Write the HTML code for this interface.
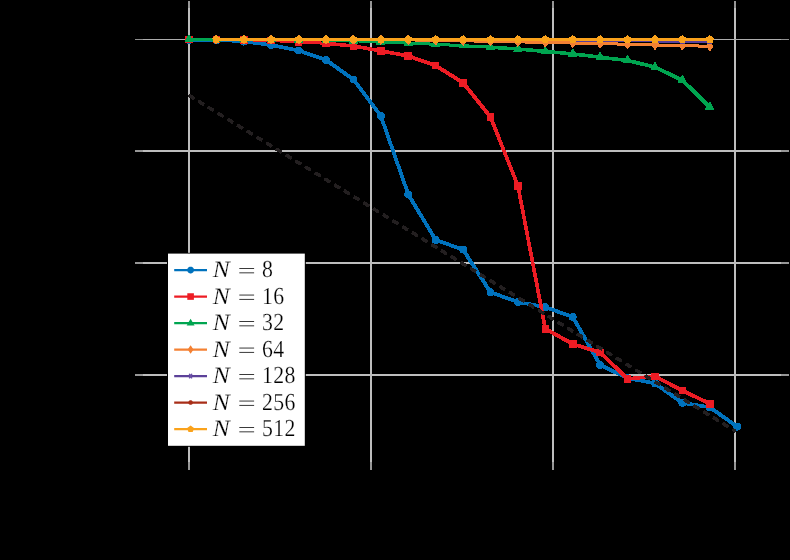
<!DOCTYPE html><html><head><meta charset="utf-8"><title>plot</title><style>html,body{margin:0;padding:0;background:#000;overflow:hidden;}svg{display:block;}text{font-family:"Liberation Serif",serif;}</style></head><body>
<svg width="790" height="560" viewBox="0 0 790 560" text-rendering="geometricPrecision">
<rect width="790" height="560" fill="#000"/>
<g shape-rendering="crispEdges"><rect x="188" y="1" width="2" height="7" fill="#979797"/><rect x="188" y="462" width="2" height="8" fill="#979797"/><rect x="188" y="8" width="2" height="454" fill="#bdbdbd"/><rect x="370" y="1" width="2" height="7" fill="#979797"/><rect x="370" y="462" width="2" height="8" fill="#979797"/><rect x="370" y="8" width="2" height="454" fill="#bdbdbd"/><rect x="552" y="1" width="2" height="7" fill="#979797"/><rect x="552" y="462" width="2" height="8" fill="#979797"/><rect x="552" y="8" width="2" height="454" fill="#bdbdbd"/><rect x="734" y="1" width="2" height="7" fill="#979797"/><rect x="734" y="462" width="2" height="8" fill="#979797"/><rect x="734" y="8" width="2" height="454" fill="#bdbdbd"/><rect x="135" y="150" width="8" height="2" fill="#979797"/><rect x="781" y="150" width="8" height="2" fill="#979797"/><rect x="143" y="150" width="638" height="2" fill="#bdbdbd"/><rect x="135" y="262" width="8" height="2" fill="#979797"/><rect x="781" y="262" width="8" height="2" fill="#979797"/><rect x="143" y="262" width="638" height="2" fill="#bdbdbd"/><rect x="135" y="374" width="8" height="2" fill="#979797"/><rect x="781" y="374" width="8" height="2" fill="#979797"/><rect x="143" y="374" width="638" height="2" fill="#bdbdbd"/><rect x="135" y="39" width="8" height="1" fill="#8f8f8f"/><rect x="781" y="39" width="8" height="1" fill="#8f8f8f"/><rect x="143" y="39" width="638" height="1" fill="#adadad"/></g>
<g shape-rendering="crispEdges">
<polygon points="188.49,40.50 188.51,38.50 189.51,38.50 216.92,38.70 216.92,39.70 216.90,41.70 215.90,41.70 188.49,41.50" fill="#0072BD"/>
<polygon points="215.86,40.70 215.96,38.70 216.96,38.70 244.37,40.10 244.37,41.10 244.27,43.10 243.27,43.10 215.86,41.70" fill="#0072BD"/>
<polygon points="243.17,42.34 243.47,39.86 244.47,39.86 271.88,43.26 271.88,44.26 271.58,46.74 270.58,46.74 243.17,43.34" fill="#0072BD"/>
<polygon points="270.48,45.73 270.98,43.27 271.98,43.27 299.39,48.77 299.39,49.77 298.89,52.23 297.89,52.23 270.48,46.73" fill="#0072BD"/>
<polygon points="297.73,51.18 298.55,48.82 299.55,48.82 326.96,58.32 326.96,59.32 326.14,61.68 325.14,61.68 297.73,52.18" fill="#0072BD"/>
<polygon points="324.82,60.52 326.27,58.48 327.27,58.48 354.69,77.98 354.69,78.98 353.24,81.02 352.24,81.02 324.82,61.52" fill="#0072BD"/>
<polygon points="351.96,79.75 353.96,78.25 354.96,78.25 382.37,114.75 382.37,115.75 380.37,117.25 379.37,117.25 351.96,80.75" fill="#0072BD"/>
<polygon points="379.19,115.91 381.55,115.09 382.55,115.09 409.96,193.49 409.96,194.49 407.60,195.31 406.60,195.31 379.19,116.91" fill="#0072BD"/>
<polygon points="406.71,194.54 408.85,193.26 409.85,193.26 437.26,238.86 437.26,239.86 435.12,241.14 434.12,241.14 406.71,195.54" fill="#0072BD"/>
<polygon points="434.78,240.68 435.60,238.32 436.60,238.32 464.01,247.92 464.01,248.92 463.19,251.28 462.19,251.28 434.78,241.68" fill="#0072BD"/>
<polygon points="461.55,249.78 463.65,248.43 464.65,248.43 492.06,291.12 492.06,292.12 489.96,293.48 488.96,293.48 461.55,250.78" fill="#0072BD"/>
<polygon points="489.59,292.98 490.43,290.62 491.43,290.62 518.84,300.32 518.84,301.32 518.00,303.68 517.00,303.68 489.59,293.98" fill="#0072BD"/>
<polygon points="517.19,302.73 517.65,300.27 518.65,300.27 546.06,305.37 546.06,306.37 545.60,308.83 544.60,308.83 517.19,303.73" fill="#0072BD"/>
<polygon points="544.40,307.78 545.25,305.42 546.25,305.42 573.66,315.32 573.66,316.32 572.82,318.68 571.82,318.68 544.40,308.78" fill="#0072BD"/>
<polygon points="571.15,317.12 573.33,315.88 574.33,315.88 601.74,363.78 601.74,364.78 599.57,366.02 598.57,366.02 571.15,318.12" fill="#0072BD"/>
<polygon points="599.10,365.52 600.20,363.27 601.20,363.27 628.61,376.57 628.61,377.57 627.51,379.82 626.51,379.82 599.10,366.52" fill="#0072BD"/>
<polygon points="626.83,378.93 627.29,376.47 628.29,376.47 655.70,381.57 655.70,382.57 655.24,385.03 654.24,385.03 626.83,379.93" fill="#0072BD"/>
<polygon points="653.74,383.82 655.20,381.78 656.20,381.78 683.61,401.38 683.61,402.38 682.15,404.42 681.15,404.42 653.74,384.82" fill="#0072BD"/>
<polygon points="681.69,403.63 682.07,401.17 683.07,401.17 710.48,405.46 710.48,406.46 710.10,408.94 709.10,408.94 681.69,404.63" fill="#0072BD"/>
<polygon points="708.57,407.72 710.01,405.68 711.01,405.68 738.42,425.18 738.42,426.18 736.98,428.22 735.98,428.22 708.57,408.72" fill="#0072BD"/>
<polygon points="185.10,39.50 185.14,38.97 185.27,38.45 185.47,37.96 185.75,37.50 186.10,37.10 186.50,36.75 186.96,36.47 187.45,36.27 187.97,36.14 188.50,36.10 189.50,36.10 190.03,36.14 190.55,36.27 191.04,36.47 191.50,36.75 191.90,37.10 192.25,37.50 192.53,37.96 192.73,38.45 192.86,38.97 192.90,39.50 192.90,40.50 192.86,41.03 192.73,41.55 192.53,42.04 192.25,42.50 191.90,42.90 191.50,43.25 191.04,43.53 190.55,43.73 190.03,43.86 189.50,43.90 188.50,43.90 187.97,43.86 187.45,43.73 186.96,43.53 186.50,43.25 186.10,42.90 185.75,42.50 185.47,42.04 185.27,41.55 185.14,41.03 185.10,40.50" fill="#0072BD"/>
<polygon points="212.51,39.70 212.55,39.17 212.68,38.65 212.88,38.16 213.16,37.70 213.51,37.30 213.91,36.95 214.37,36.67 214.86,36.47 215.38,36.34 215.91,36.30 216.91,36.30 217.44,36.34 217.96,36.47 218.45,36.67 218.91,36.95 219.31,37.30 219.66,37.70 219.94,38.16 220.14,38.65 220.27,39.17 220.31,39.70 220.31,40.70 220.27,41.23 220.14,41.75 219.94,42.24 219.66,42.70 219.31,43.10 218.91,43.45 218.45,43.73 217.96,43.93 217.44,44.06 216.91,44.10 215.91,44.10 215.38,44.06 214.86,43.93 214.37,43.73 213.91,43.45 213.51,43.10 213.16,42.70 212.88,42.24 212.68,41.75 212.55,41.23 212.51,40.70" fill="#0072BD"/>
<polygon points="239.92,41.10 239.96,40.57 240.09,40.05 240.29,39.56 240.57,39.10 240.92,38.70 241.32,38.35 241.78,38.07 242.27,37.87 242.79,37.74 243.32,37.70 244.32,37.70 244.85,37.74 245.37,37.87 245.86,38.07 246.32,38.35 246.72,38.70 247.07,39.10 247.35,39.56 247.55,40.05 247.68,40.57 247.72,41.10 247.72,42.10 247.68,42.63 247.55,43.15 247.35,43.64 247.07,44.10 246.72,44.50 246.32,44.85 245.86,45.13 245.37,45.33 244.85,45.46 244.32,45.50 243.32,45.50 242.79,45.46 242.27,45.33 241.78,45.13 241.32,44.85 240.92,44.50 240.57,44.10 240.29,43.64 240.09,43.15 239.96,42.63 239.92,42.10" fill="#0072BD"/>
<polygon points="267.33,44.50 267.37,43.97 267.50,43.45 267.70,42.96 267.98,42.50 268.33,42.10 268.73,41.75 269.19,41.47 269.68,41.27 270.20,41.14 270.73,41.10 271.73,41.10 272.26,41.14 272.78,41.27 273.27,41.47 273.73,41.75 274.13,42.10 274.48,42.50 274.76,42.96 274.96,43.45 275.09,43.97 275.13,44.50 275.13,45.50 275.09,46.03 274.96,46.55 274.76,47.04 274.48,47.50 274.13,47.90 273.73,48.25 273.27,48.53 272.78,48.73 272.26,48.86 271.73,48.90 270.73,48.90 270.20,48.86 269.68,48.73 269.19,48.53 268.73,48.25 268.33,47.90 267.98,47.50 267.70,47.04 267.50,46.55 267.37,46.03 267.33,45.50" fill="#0072BD"/>
<polygon points="294.74,50.00 294.78,49.47 294.91,48.95 295.11,48.46 295.39,48.00 295.74,47.60 296.14,47.25 296.60,46.97 297.09,46.77 297.61,46.64 298.14,46.60 299.14,46.60 299.67,46.64 300.19,46.77 300.68,46.97 301.14,47.25 301.54,47.60 301.89,48.00 302.17,48.46 302.37,48.95 302.50,49.47 302.54,50.00 302.54,51.00 302.50,51.53 302.37,52.05 302.17,52.54 301.89,53.00 301.54,53.40 301.14,53.75 300.68,54.03 300.19,54.23 299.67,54.36 299.14,54.40 298.14,54.40 297.61,54.36 297.09,54.23 296.60,54.03 296.14,53.75 295.74,53.40 295.39,53.00 295.11,52.54 294.91,52.05 294.78,51.53 294.74,51.00" fill="#0072BD"/>
<polygon points="322.15,59.50 322.19,58.97 322.32,58.45 322.52,57.96 322.80,57.50 323.15,57.10 323.55,56.75 324.01,56.47 324.50,56.27 325.02,56.14 325.55,56.10 326.55,56.10 327.08,56.14 327.60,56.27 328.09,56.47 328.55,56.75 328.95,57.10 329.30,57.50 329.58,57.96 329.78,58.45 329.91,58.97 329.95,59.50 329.95,60.50 329.91,61.03 329.78,61.55 329.58,62.04 329.30,62.50 328.95,62.90 328.55,63.25 328.09,63.53 327.60,63.73 327.08,63.86 326.55,63.90 325.55,63.90 325.02,63.86 324.50,63.73 324.01,63.53 323.55,63.25 323.15,62.90 322.80,62.50 322.52,62.04 322.32,61.55 322.19,61.03 322.15,60.50" fill="#0072BD"/>
<polygon points="349.56,79.00 349.60,78.47 349.73,77.95 349.93,77.46 350.21,77.00 350.56,76.60 350.96,76.25 351.42,75.97 351.91,75.77 352.43,75.64 352.96,75.60 353.96,75.60 354.49,75.64 355.01,75.77 355.50,75.97 355.96,76.25 356.36,76.60 356.71,77.00 356.99,77.46 357.19,77.95 357.32,78.47 357.36,79.00 357.36,80.00 357.32,80.53 357.19,81.05 356.99,81.54 356.71,82.00 356.36,82.40 355.96,82.75 355.50,83.03 355.01,83.23 354.49,83.36 353.96,83.40 352.96,83.40 352.43,83.36 351.91,83.23 351.42,83.03 350.96,82.75 350.56,82.40 350.21,82.00 349.93,81.54 349.73,81.05 349.60,80.53 349.56,80.00" fill="#0072BD"/>
<polygon points="376.97,115.50 377.01,114.97 377.14,114.45 377.34,113.96 377.62,113.50 377.97,113.10 378.37,112.75 378.83,112.47 379.32,112.27 379.84,112.14 380.37,112.10 381.37,112.10 381.90,112.14 382.42,112.27 382.91,112.47 383.37,112.75 383.77,113.10 384.12,113.50 384.40,113.96 384.60,114.45 384.73,114.97 384.77,115.50 384.77,116.50 384.73,117.03 384.60,117.55 384.40,118.04 384.12,118.50 383.77,118.90 383.37,119.25 382.91,119.53 382.42,119.73 381.90,119.86 381.37,119.90 380.37,119.90 379.84,119.86 379.32,119.73 378.83,119.53 378.37,119.25 377.97,118.90 377.62,118.50 377.34,118.04 377.14,117.55 377.01,117.03 376.97,116.50" fill="#0072BD"/>
<polygon points="404.38,193.90 404.42,193.37 404.55,192.85 404.75,192.36 405.03,191.90 405.38,191.50 405.78,191.15 406.24,190.87 406.73,190.67 407.25,190.54 407.78,190.50 408.78,190.50 409.31,190.54 409.83,190.67 410.32,190.87 410.78,191.15 411.18,191.50 411.53,191.90 411.81,192.36 412.01,192.85 412.14,193.37 412.18,193.90 412.18,194.90 412.14,195.43 412.01,195.95 411.81,196.44 411.53,196.90 411.18,197.30 410.78,197.65 410.32,197.93 409.83,198.13 409.31,198.26 408.78,198.30 407.78,198.30 407.25,198.26 406.73,198.13 406.24,197.93 405.78,197.65 405.38,197.30 405.03,196.90 404.75,196.44 404.55,195.95 404.42,195.43 404.38,194.90" fill="#0072BD"/>
<polygon points="431.79,239.50 431.83,238.97 431.96,238.45 432.16,237.96 432.44,237.50 432.79,237.10 433.19,236.75 433.65,236.47 434.14,236.27 434.66,236.14 435.19,236.10 436.19,236.10 436.72,236.14 437.24,236.27 437.73,236.47 438.19,236.75 438.59,237.10 438.94,237.50 439.22,237.96 439.42,238.45 439.55,238.97 439.59,239.50 439.59,240.50 439.55,241.03 439.42,241.55 439.22,242.04 438.94,242.50 438.59,242.90 438.19,243.25 437.73,243.53 437.24,243.73 436.72,243.86 436.19,243.90 435.19,243.90 434.66,243.86 434.14,243.73 433.65,243.53 433.19,243.25 432.79,242.90 432.44,242.50 432.16,242.04 431.96,241.55 431.83,241.03 431.79,240.50" fill="#0072BD"/>
<polygon points="459.20,249.10 459.24,248.57 459.37,248.05 459.57,247.56 459.85,247.10 460.20,246.70 460.60,246.35 461.06,246.07 461.55,245.87 462.07,245.74 462.60,245.70 463.60,245.70 464.13,245.74 464.65,245.87 465.14,246.07 465.60,246.35 466.00,246.70 466.35,247.10 466.63,247.56 466.83,248.05 466.96,248.57 467.00,249.10 467.00,250.10 466.96,250.63 466.83,251.15 466.63,251.64 466.35,252.10 466.00,252.50 465.60,252.85 465.14,253.13 464.65,253.33 464.13,253.46 463.60,253.50 462.60,253.50 462.07,253.46 461.55,253.33 461.06,253.13 460.60,252.85 460.20,252.50 459.85,252.10 459.57,251.64 459.37,251.15 459.24,250.63 459.20,250.10" fill="#0072BD"/>
<polygon points="486.61,291.80 486.65,291.27 486.78,290.75 486.98,290.26 487.26,289.80 487.61,289.40 488.01,289.05 488.47,288.77 488.96,288.57 489.48,288.44 490.01,288.40 491.01,288.40 491.54,288.44 492.06,288.57 492.55,288.77 493.01,289.05 493.41,289.40 493.76,289.80 494.04,290.26 494.24,290.75 494.37,291.27 494.41,291.80 494.41,292.80 494.37,293.33 494.24,293.85 494.04,294.34 493.76,294.80 493.41,295.20 493.01,295.55 492.55,295.83 492.06,296.03 491.54,296.16 491.01,296.20 490.01,296.20 489.48,296.16 488.96,296.03 488.47,295.83 488.01,295.55 487.61,295.20 487.26,294.80 486.98,294.34 486.78,293.85 486.65,293.33 486.61,292.80" fill="#0072BD"/>
<polygon points="514.02,301.50 514.06,300.97 514.19,300.45 514.39,299.96 514.67,299.50 515.02,299.10 515.42,298.75 515.88,298.47 516.37,298.27 516.89,298.14 517.42,298.10 518.42,298.10 518.95,298.14 519.47,298.27 519.96,298.47 520.42,298.75 520.82,299.10 521.17,299.50 521.45,299.96 521.65,300.45 521.78,300.97 521.82,301.50 521.82,302.50 521.78,303.03 521.65,303.55 521.45,304.04 521.17,304.50 520.82,304.90 520.42,305.25 519.96,305.53 519.47,305.73 518.95,305.86 518.42,305.90 517.42,305.90 516.89,305.86 516.37,305.73 515.88,305.53 515.42,305.25 515.02,304.90 514.67,304.50 514.39,304.04 514.19,303.55 514.06,303.03 514.02,302.50" fill="#0072BD"/>
<polygon points="541.43,306.60 541.47,306.07 541.60,305.55 541.80,305.06 542.08,304.60 542.43,304.20 542.83,303.85 543.29,303.57 543.78,303.37 544.30,303.24 544.83,303.20 545.83,303.20 546.36,303.24 546.88,303.37 547.37,303.57 547.83,303.85 548.23,304.20 548.58,304.60 548.86,305.06 549.06,305.55 549.19,306.07 549.23,306.60 549.23,307.60 549.19,308.13 549.06,308.65 548.86,309.14 548.58,309.60 548.23,310.00 547.83,310.35 547.37,310.63 546.88,310.83 546.36,310.96 545.83,311.00 544.83,311.00 544.30,310.96 543.78,310.83 543.29,310.63 542.83,310.35 542.43,310.00 542.08,309.60 541.80,309.14 541.60,308.65 541.47,308.13 541.43,307.60" fill="#0072BD"/>
<polygon points="568.84,316.50 568.88,315.97 569.01,315.45 569.21,314.96 569.49,314.50 569.84,314.10 570.24,313.75 570.70,313.47 571.19,313.27 571.71,313.14 572.24,313.10 573.24,313.10 573.77,313.14 574.29,313.27 574.78,313.47 575.24,313.75 575.64,314.10 575.99,314.50 576.27,314.96 576.47,315.45 576.60,315.97 576.64,316.50 576.64,317.50 576.60,318.03 576.47,318.55 576.27,319.04 575.99,319.50 575.64,319.90 575.24,320.25 574.78,320.53 574.29,320.73 573.77,320.86 573.24,320.90 572.24,320.90 571.71,320.86 571.19,320.73 570.70,320.53 570.24,320.25 569.84,319.90 569.49,319.50 569.21,319.04 569.01,318.55 568.88,318.03 568.84,317.50" fill="#0072BD"/>
<polygon points="596.25,364.40 596.29,363.87 596.42,363.35 596.62,362.86 596.90,362.40 597.25,362.00 597.65,361.65 598.11,361.37 598.60,361.17 599.12,361.04 599.65,361.00 600.65,361.00 601.18,361.04 601.70,361.17 602.19,361.37 602.65,361.65 603.05,362.00 603.40,362.40 603.68,362.86 603.88,363.35 604.01,363.87 604.05,364.40 604.05,365.40 604.01,365.93 603.88,366.45 603.68,366.94 603.40,367.40 603.05,367.80 602.65,368.15 602.19,368.43 601.70,368.63 601.18,368.76 600.65,368.80 599.65,368.80 599.12,368.76 598.60,368.63 598.11,368.43 597.65,368.15 597.25,367.80 596.90,367.40 596.62,366.94 596.42,366.45 596.29,365.93 596.25,365.40" fill="#0072BD"/>
<polygon points="623.66,377.70 623.70,377.17 623.83,376.65 624.03,376.16 624.31,375.70 624.66,375.30 625.06,374.95 625.52,374.67 626.01,374.47 626.53,374.34 627.06,374.30 628.06,374.30 628.59,374.34 629.11,374.47 629.60,374.67 630.06,374.95 630.46,375.30 630.81,375.70 631.09,376.16 631.29,376.65 631.42,377.17 631.46,377.70 631.46,378.70 631.42,379.23 631.29,379.75 631.09,380.24 630.81,380.70 630.46,381.10 630.06,381.45 629.60,381.73 629.11,381.93 628.59,382.06 628.06,382.10 627.06,382.10 626.53,382.06 626.01,381.93 625.52,381.73 625.06,381.45 624.66,381.10 624.31,380.70 624.03,380.24 623.83,379.75 623.70,379.23 623.66,378.70" fill="#0072BD"/>
<polygon points="651.07,382.80 651.11,382.27 651.24,381.75 651.44,381.26 651.72,380.80 652.07,380.40 652.47,380.05 652.93,379.77 653.42,379.57 653.94,379.44 654.47,379.40 655.47,379.40 656.00,379.44 656.52,379.57 657.01,379.77 657.47,380.05 657.87,380.40 658.22,380.80 658.50,381.26 658.70,381.75 658.83,382.27 658.87,382.80 658.87,383.80 658.83,384.33 658.70,384.85 658.50,385.34 658.22,385.80 657.87,386.20 657.47,386.55 657.01,386.83 656.52,387.03 656.00,387.16 655.47,387.20 654.47,387.20 653.94,387.16 653.42,387.03 652.93,386.83 652.47,386.55 652.07,386.20 651.72,385.80 651.44,385.34 651.24,384.85 651.11,384.33 651.07,383.80" fill="#0072BD"/>
<polygon points="678.48,402.40 678.52,401.87 678.65,401.35 678.85,400.86 679.13,400.40 679.48,400.00 679.88,399.65 680.34,399.37 680.83,399.17 681.35,399.04 681.88,399.00 682.88,399.00 683.41,399.04 683.93,399.17 684.42,399.37 684.88,399.65 685.28,400.00 685.63,400.40 685.91,400.86 686.11,401.35 686.24,401.87 686.28,402.40 686.28,403.40 686.24,403.93 686.11,404.45 685.91,404.94 685.63,405.40 685.28,405.80 684.88,406.15 684.42,406.43 683.93,406.63 683.41,406.76 682.88,406.80 681.88,406.80 681.35,406.76 680.83,406.63 680.34,406.43 679.88,406.15 679.48,405.80 679.13,405.40 678.85,404.94 678.65,404.45 678.52,403.93 678.48,403.40" fill="#0072BD"/>
<polygon points="705.89,406.70 705.93,406.17 706.06,405.65 706.26,405.16 706.54,404.70 706.89,404.30 707.29,403.95 707.75,403.67 708.24,403.47 708.76,403.34 709.29,403.30 710.29,403.30 710.82,403.34 711.34,403.47 711.83,403.67 712.29,403.95 712.69,404.30 713.04,404.70 713.32,405.16 713.52,405.65 713.65,406.17 713.69,406.70 713.69,407.70 713.65,408.23 713.52,408.75 713.32,409.24 713.04,409.70 712.69,410.10 712.29,410.45 711.83,410.73 711.34,410.93 710.82,411.06 710.29,411.10 709.29,411.10 708.76,411.06 708.24,410.93 707.75,410.73 707.29,410.45 706.89,410.10 706.54,409.70 706.26,409.24 706.06,408.75 705.93,408.23 705.89,407.70" fill="#0072BD"/>
<polygon points="733.30,426.20 733.34,425.67 733.47,425.15 733.67,424.66 733.95,424.20 734.30,423.80 734.70,423.45 735.16,423.17 735.65,422.97 736.17,422.84 736.70,422.80 737.70,422.80 738.23,422.84 738.75,422.97 739.24,423.17 739.70,423.45 740.10,423.80 740.45,424.20 740.73,424.66 740.93,425.15 741.06,425.67 741.10,426.20 741.10,427.20 741.06,427.73 740.93,428.25 740.73,428.74 740.45,429.20 740.10,429.60 739.70,429.95 739.24,430.23 738.75,430.43 738.23,430.56 737.70,430.60 736.70,430.60 736.17,430.56 735.65,430.43 735.16,430.23 734.70,429.95 734.30,429.60 733.95,429.20 733.67,428.74 733.47,428.25 733.34,427.73 733.30,427.20" fill="#0072BD"/>
<polygon points="188.50,38.05 216.91,38.05 216.91,41.05 188.50,41.05" fill="#ED1C24"/>
<polygon points="215.91,40.05 215.91,38.05 216.91,38.05 244.32,38.20 244.32,39.20 244.31,41.20 243.31,41.20 215.91,41.05" fill="#ED1C24"/>
<polygon points="243.29,40.20 243.35,38.20 244.35,38.20 271.76,39.10 271.76,40.10 271.70,42.10 270.70,42.10 243.29,41.20" fill="#ED1C24"/>
<polygon points="270.69,41.10 270.77,39.10 271.77,39.10 299.18,40.30 299.18,41.30 299.10,43.30 298.10,43.30 270.69,42.10" fill="#ED1C24"/>
<polygon points="298.08,42.30 298.19,40.30 299.19,40.30 326.61,41.80 326.61,42.80 326.50,44.80 325.50,44.80 298.08,43.30" fill="#ED1C24"/>
<polygon points="325.43,44.04 325.67,41.56 326.67,41.56 354.08,44.26 354.08,45.26 353.84,47.74 352.84,47.74 325.43,45.04" fill="#ED1C24"/>
<polygon points="352.74,46.73 353.18,44.27 354.18,44.27 381.59,49.17 381.59,50.17 381.15,52.63 380.15,52.63 352.74,47.73" fill="#ED1C24"/>
<polygon points="380.14,51.63 380.60,49.17 381.60,49.17 409.01,54.27 409.01,55.27 408.55,57.73 407.55,57.73 380.14,52.63" fill="#ED1C24"/>
<polygon points="407.37,56.68 408.19,54.32 409.19,54.32 436.60,63.92 436.60,64.92 435.78,67.28 434.78,67.28 407.37,57.68" fill="#ED1C24"/>
<polygon points="434.53,66.16 435.85,64.04 436.85,64.04 464.26,81.24 464.26,82.24 462.94,84.36 461.94,84.36 434.53,67.16" fill="#ED1C24"/>
<polygon points="461.62,83.08 463.57,81.52 464.57,81.52 491.99,115.72 491.99,116.72 490.04,118.28 489.04,118.28 461.62,84.08" fill="#ED1C24"/>
<polygon points="488.85,116.96 491.17,116.04 492.17,116.04 519.58,184.84 519.58,185.84 517.26,186.76 516.26,186.76 488.85,117.96" fill="#ED1C24"/>
<polygon points="516.19,185.53 518.65,185.06 519.65,185.06 547.06,328.06 547.06,329.06 544.60,329.54 543.60,329.54 516.19,186.53" fill="#ED1C24"/>
<polygon points="544.22,329.39 545.44,327.21 546.44,327.21 573.85,342.41 573.85,343.41 572.63,345.59 571.63,345.59 544.22,330.39" fill="#ED1C24"/>
<polygon points="571.87,344.69 572.61,342.31 573.61,342.31 601.02,350.81 601.02,351.81 600.28,354.19 599.28,354.19 571.87,345.69" fill="#ED1C24"/>
<polygon points="598.78,352.90 600.51,351.10 601.51,351.10 628.92,377.40 628.92,378.40 627.20,380.20 626.20,380.20 598.78,353.90" fill="#ED1C24"/>
<polygon points="626.95,377.06 654.36,374.56 655.36,374.56 655.58,377.05 655.58,378.05 628.17,380.55 627.17,380.55 626.95,378.06" fill="#ED1C24"/>
<polygon points="653.89,376.91 655.04,374.69 656.04,374.69 683.46,388.89 683.46,389.89 682.30,392.11 681.30,392.11 653.89,377.91" fill="#ED1C24"/>
<polygon points="681.34,391.13 682.42,388.87 683.42,388.87 710.83,402.07 710.83,403.07 709.75,405.33 708.75,405.33 681.34,392.13" fill="#ED1C24"/>
<polygon points="185.20,35.75 192.80,35.75 192.80,43.35 185.20,43.35" fill="#ED1C24"/>
<polygon points="212.61,35.75 220.21,35.75 220.21,43.35 212.61,43.35" fill="#ED1C24"/>
<polygon points="240.02,35.90 247.62,35.90 247.62,43.50 240.02,43.50" fill="#ED1C24"/>
<polygon points="267.43,36.80 275.03,36.80 275.03,44.40 267.43,44.40" fill="#ED1C24"/>
<polygon points="294.84,38.00 302.44,38.00 302.44,45.60 294.84,45.60" fill="#ED1C24"/>
<polygon points="322.25,39.50 329.85,39.50 329.85,47.10 322.25,47.10" fill="#ED1C24"/>
<polygon points="349.66,42.20 357.26,42.20 357.26,49.80 349.66,49.80" fill="#ED1C24"/>
<polygon points="377.07,47.10 384.67,47.10 384.67,54.70 377.07,54.70" fill="#ED1C24"/>
<polygon points="404.48,52.20 412.08,52.20 412.08,59.80 404.48,59.80" fill="#ED1C24"/>
<polygon points="431.89,61.80 439.49,61.80 439.49,69.40 431.89,69.40" fill="#ED1C24"/>
<polygon points="459.30,79.00 466.90,79.00 466.90,86.60 459.30,86.60" fill="#ED1C24"/>
<polygon points="486.71,113.20 494.31,113.20 494.31,120.80 486.71,120.80" fill="#ED1C24"/>
<polygon points="514.12,182.00 521.72,182.00 521.72,189.60 514.12,189.60" fill="#ED1C24"/>
<polygon points="541.53,325.00 549.13,325.00 549.13,332.60 541.53,332.60" fill="#ED1C24"/>
<polygon points="568.94,340.20 576.54,340.20 576.54,347.80 568.94,347.80" fill="#ED1C24"/>
<polygon points="596.35,348.70 603.95,348.70 603.95,356.30 596.35,356.30" fill="#ED1C24"/>
<polygon points="623.76,375.00 631.36,375.00 631.36,382.60 623.76,382.60" fill="#ED1C24"/>
<polygon points="651.17,372.50 658.77,372.50 658.77,380.10 651.17,380.10" fill="#ED1C24"/>
<polygon points="678.58,386.70 686.18,386.70 686.18,394.30 678.58,394.30" fill="#ED1C24"/>
<polygon points="705.99,399.90 713.59,399.90 713.59,407.50 705.99,407.50" fill="#ED1C24"/>
<polygon points="188.50,38.10 216.91,38.10 216.91,41.10 188.50,41.10" fill="#00A550"/>
<polygon points="215.91,40.10 215.91,38.10 216.91,38.10 244.32,38.15 244.32,39.15 244.32,41.15 243.32,41.15 215.91,41.10" fill="#00A550"/>
<polygon points="243.32,40.15 243.32,38.15 244.32,38.15 271.73,38.20 271.73,39.20 271.73,41.20 270.73,41.20 243.32,41.15" fill="#00A550"/>
<polygon points="270.73,40.20 270.74,38.20 271.74,38.20 299.14,38.35 299.14,39.35 299.13,41.35 298.13,41.35 270.73,41.20" fill="#00A550"/>
<polygon points="298.13,40.35 298.14,38.35 299.14,38.35 326.56,38.50 326.56,39.50 326.55,41.50 325.55,41.50 298.13,41.35" fill="#00A550"/>
<polygon points="325.52,40.50 325.58,38.50 326.58,38.50 353.99,39.25 353.99,40.25 353.93,42.25 352.93,42.25 325.52,41.50" fill="#00A550"/>
<polygon points="352.92,41.25 353.00,39.25 354.00,39.25 381.41,40.35 381.41,41.35 381.33,43.35 380.33,43.35 352.92,42.25" fill="#00A550"/>
<polygon points="380.33,42.35 380.41,40.35 381.41,40.35 408.82,41.50 408.82,42.50 408.74,44.50 407.74,44.50 380.33,43.35" fill="#00A550"/>
<polygon points="407.73,43.50 407.83,41.50 408.83,41.50 436.24,42.80 436.24,43.80 436.14,45.80 435.14,45.80 407.73,44.50" fill="#00A550"/>
<polygon points="435.14,44.80 435.24,42.80 436.24,42.80 463.65,44.20 463.65,45.20 463.55,47.20 462.55,47.20 435.14,45.80" fill="#00A550"/>
<polygon points="462.55,46.20 462.65,44.20 463.65,44.20 491.06,45.70 491.06,46.70 490.95,48.70 489.95,48.70 462.55,47.20" fill="#00A550"/>
<polygon points="489.93,47.95 490.09,45.45 491.09,45.45 518.50,47.25 518.50,48.25 518.34,50.75 517.34,50.75 489.93,48.95" fill="#00A550"/>
<polygon points="517.31,49.74 517.53,47.26 518.53,47.26 545.94,49.66 545.94,50.66 545.72,53.15 544.72,53.15 517.31,50.74" fill="#00A550"/>
<polygon points="544.72,52.15 544.94,49.66 545.94,49.66 573.35,52.16 573.35,53.16 573.13,55.65 572.13,55.65 544.72,53.15" fill="#00A550"/>
<polygon points="572.09,54.64 572.39,52.16 573.39,52.16 600.80,55.46 600.80,56.46 600.50,58.94 599.50,58.94 572.09,55.64" fill="#00A550"/>
<polygon points="599.50,57.94 599.80,55.46 600.80,55.46 628.21,58.76 628.21,59.76 627.91,62.24 626.91,62.24 599.50,58.94" fill="#00A550"/>
<polygon points="626.77,61.22 627.35,58.78 628.35,58.78 655.76,65.39 655.76,66.39 655.18,68.81 654.18,68.81 626.77,62.22" fill="#00A550"/>
<polygon points="653.93,67.73 655.01,65.47 656.01,65.47 683.42,78.67 683.42,79.67 682.34,81.93 681.34,81.93 653.93,68.73" fill="#00A550"/>
<polygon points="681.01,80.69 682.75,78.91 683.75,78.91 711.16,105.61 711.16,106.61 709.42,108.39 708.42,108.39 681.01,81.69" fill="#00A550"/>
<polygon points="184.56,41.38 188.50,34.55 189.50,34.55 193.44,41.38 193.44,42.38 184.56,42.38" fill="#00A550"/>
<polygon points="211.97,41.38 215.91,34.55 216.91,34.55 220.85,41.38 220.85,42.38 211.97,42.38" fill="#00A550"/>
<polygon points="239.38,41.42 243.32,34.60 244.32,34.60 248.26,41.42 248.26,42.42 239.38,42.42" fill="#00A550"/>
<polygon points="266.79,41.48 270.73,34.65 271.73,34.65 275.67,41.48 275.67,42.48 266.79,42.48" fill="#00A550"/>
<polygon points="294.20,41.62 298.14,34.80 299.14,34.80 303.08,41.62 303.08,42.62 294.20,42.62" fill="#00A550"/>
<polygon points="321.61,41.77 325.55,34.95 326.55,34.95 330.49,41.77 330.49,42.77 321.61,42.77" fill="#00A550"/>
<polygon points="349.02,42.52 352.96,35.70 353.96,35.70 357.90,42.52 357.90,43.52 349.02,43.52" fill="#00A550"/>
<polygon points="376.43,43.62 380.37,36.80 381.37,36.80 385.31,43.62 385.31,44.62 376.43,44.62" fill="#00A550"/>
<polygon points="403.84,44.77 407.78,37.95 408.78,37.95 412.72,44.77 412.72,45.77 403.84,45.77" fill="#00A550"/>
<polygon points="431.25,46.08 435.19,39.25 436.19,39.25 440.13,46.08 440.13,47.08 431.25,47.08" fill="#00A550"/>
<polygon points="458.66,47.48 462.60,40.65 463.60,40.65 467.54,47.48 467.54,48.48 458.66,48.48" fill="#00A550"/>
<polygon points="486.07,48.98 490.01,42.15 491.01,42.15 494.95,48.98 494.95,49.98 486.07,49.98" fill="#00A550"/>
<polygon points="513.48,50.77 517.42,43.95 518.42,43.95 522.36,50.77 522.36,51.77 513.48,51.77" fill="#00A550"/>
<polygon points="540.89,53.17 544.83,46.35 545.83,46.35 549.77,53.17 549.77,54.17 540.89,54.17" fill="#00A550"/>
<polygon points="568.30,55.67 572.24,48.85 573.24,48.85 577.18,55.67 577.18,56.67 568.30,56.67" fill="#00A550"/>
<polygon points="595.71,58.98 599.65,52.15 600.65,52.15 604.59,58.98 604.59,59.98 595.71,59.98" fill="#00A550"/>
<polygon points="623.12,62.27 627.06,55.45 628.06,55.45 632.00,62.27 632.00,63.27 623.12,63.27" fill="#00A550"/>
<polygon points="650.53,68.88 654.47,62.05 655.47,62.05 659.41,68.88 659.41,69.88 650.53,69.88" fill="#00A550"/>
<polygon points="677.94,82.08 681.88,75.25 682.88,75.25 686.82,82.08 686.82,83.08 677.94,83.08" fill="#00A550"/>
<polygon points="705.35,108.78 709.29,101.95 710.29,101.95 714.23,108.78 714.23,109.78 705.35,109.78" fill="#00A550"/>
<polygon points="215.91,38.05 244.32,38.05 244.32,41.05 215.91,41.05" fill="#F48133"/>
<polygon points="243.32,38.05 271.73,38.05 271.73,41.05 243.32,41.05" fill="#F48133"/>
<polygon points="270.73,38.05 299.14,38.05 299.14,41.05 270.73,41.05" fill="#F48133"/>
<polygon points="298.14,38.05 326.55,38.05 326.55,41.05 298.14,41.05" fill="#F48133"/>
<polygon points="325.55,40.05 325.55,38.05 326.55,38.05 353.96,38.10 353.96,39.10 353.96,41.10 352.96,41.10 325.55,41.05" fill="#F48133"/>
<polygon points="352.96,40.10 352.96,38.10 353.96,38.10 381.37,38.20 381.37,39.20 381.37,41.20 380.37,41.20 352.96,41.10" fill="#F48133"/>
<polygon points="380.36,40.20 380.38,38.20 381.38,38.20 408.79,38.40 408.79,39.40 408.77,41.40 407.77,41.40 380.36,41.20" fill="#F48133"/>
<polygon points="407.76,40.40 407.80,38.40 408.80,38.40 436.20,38.80 436.20,39.80 436.18,41.80 435.18,41.80 407.76,41.40" fill="#F48133"/>
<polygon points="435.17,40.80 435.21,38.80 436.21,38.80 463.62,39.30 463.62,40.30 463.58,42.30 462.58,42.30 435.17,41.80" fill="#F48133"/>
<polygon points="462.58,41.30 462.62,39.30 463.62,39.30 491.03,39.80 491.03,40.80 490.99,42.80 489.99,42.80 462.58,42.30" fill="#F48133"/>
<polygon points="489.99,41.80 490.03,39.80 491.03,39.80 518.44,40.35 518.44,41.35 518.40,43.35 517.40,43.35 489.99,42.80" fill="#F48133"/>
<polygon points="517.40,42.35 517.44,40.35 518.44,40.35 545.85,40.90 545.85,41.90 545.81,43.90 544.81,43.90 517.40,43.35" fill="#F48133"/>
<polygon points="544.81,42.90 544.85,40.90 545.85,40.90 573.26,41.50 573.26,42.50 573.22,44.50 572.22,44.50 544.81,43.90" fill="#F48133"/>
<polygon points="572.22,43.50 572.26,41.50 573.26,41.50 600.67,42.10 600.67,43.10 600.63,45.10 599.63,45.10 572.22,44.50" fill="#F48133"/>
<polygon points="599.63,44.10 599.67,42.10 600.67,42.10 628.08,42.75 628.08,43.75 628.04,45.75 627.04,45.75 599.63,45.10" fill="#F48133"/>
<polygon points="627.03,44.75 627.09,42.75 628.09,42.75 655.50,43.43 655.50,44.43 655.45,46.43 654.45,46.43 627.03,45.75" fill="#F48133"/>
<polygon points="654.45,45.43 654.49,43.43 655.49,43.43 682.90,44.10 682.90,45.10 682.86,47.10 681.86,47.10 654.45,46.43" fill="#F48133"/>
<polygon points="681.85,46.10 681.91,44.10 682.91,44.10 710.32,44.80 710.32,45.80 710.26,47.80 709.26,47.80 681.85,47.10" fill="#F48133"/>
<polygon points="213.01,39.05 215.91,34.75 216.91,34.75 219.81,39.05 219.81,40.05 216.91,44.35 215.91,44.35 213.01,40.05" fill="#F48133"/>
<polygon points="240.42,39.05 243.32,34.75 244.32,34.75 247.22,39.05 247.22,40.05 244.32,44.35 243.32,44.35 240.42,40.05" fill="#F48133"/>
<polygon points="267.83,39.05 270.73,34.75 271.73,34.75 274.63,39.05 274.63,40.05 271.73,44.35 270.73,44.35 267.83,40.05" fill="#F48133"/>
<polygon points="295.24,39.05 298.14,34.75 299.14,34.75 302.04,39.05 302.04,40.05 299.14,44.35 298.14,44.35 295.24,40.05" fill="#F48133"/>
<polygon points="322.65,39.05 325.55,34.75 326.55,34.75 329.45,39.05 329.45,40.05 326.55,44.35 325.55,44.35 322.65,40.05" fill="#F48133"/>
<polygon points="350.06,39.10 352.96,34.80 353.96,34.80 356.86,39.10 356.86,40.10 353.96,44.40 352.96,44.40 350.06,40.10" fill="#F48133"/>
<polygon points="377.47,39.20 380.37,34.90 381.37,34.90 384.27,39.20 384.27,40.20 381.37,44.50 380.37,44.50 377.47,40.20" fill="#F48133"/>
<polygon points="404.88,39.40 407.78,35.10 408.78,35.10 411.68,39.40 411.68,40.40 408.78,44.70 407.78,44.70 404.88,40.40" fill="#F48133"/>
<polygon points="432.29,39.80 435.19,35.50 436.19,35.50 439.09,39.80 439.09,40.80 436.19,45.10 435.19,45.10 432.29,40.80" fill="#F48133"/>
<polygon points="459.70,40.30 462.60,36.00 463.60,36.00 466.50,40.30 466.50,41.30 463.60,45.60 462.60,45.60 459.70,41.30" fill="#F48133"/>
<polygon points="487.11,40.80 490.01,36.50 491.01,36.50 493.91,40.80 493.91,41.80 491.01,46.10 490.01,46.10 487.11,41.80" fill="#F48133"/>
<polygon points="514.52,41.35 517.42,37.05 518.42,37.05 521.32,41.35 521.32,42.35 518.42,46.65 517.42,46.65 514.52,42.35" fill="#F48133"/>
<polygon points="541.93,41.90 544.83,37.60 545.83,37.60 548.73,41.90 548.73,42.90 545.83,47.20 544.83,47.20 541.93,42.90" fill="#F48133"/>
<polygon points="569.34,42.50 572.24,38.20 573.24,38.20 576.14,42.50 576.14,43.50 573.24,47.80 572.24,47.80 569.34,43.50" fill="#F48133"/>
<polygon points="596.75,43.10 599.65,38.80 600.65,38.80 603.55,43.10 603.55,44.10 600.65,48.40 599.65,48.40 596.75,44.10" fill="#F48133"/>
<polygon points="624.16,43.75 627.06,39.45 628.06,39.45 630.96,43.75 630.96,44.75 628.06,49.05 627.06,49.05 624.16,44.75" fill="#F48133"/>
<polygon points="651.57,44.43 654.47,40.13 655.47,40.13 658.37,44.43 658.37,45.43 655.47,49.73 654.47,49.73 651.57,45.43" fill="#F48133"/>
<polygon points="678.98,45.10 681.88,40.80 682.88,40.80 685.78,45.10 685.78,46.10 682.88,50.40 681.88,50.40 678.98,46.10" fill="#F48133"/>
<polygon points="706.39,45.80 709.29,41.50 710.29,41.50 713.19,45.80 713.19,46.80 710.29,51.10 709.29,51.10 706.39,46.80" fill="#F48133"/>
<polygon points="215.91,38.05 244.32,38.05 244.32,41.05 215.91,41.05" fill="#5A3F9B"/>
<polygon points="243.32,38.05 271.73,38.05 271.73,41.05 243.32,41.05" fill="#5A3F9B"/>
<polygon points="270.73,38.05 299.14,38.05 299.14,41.05 270.73,41.05" fill="#5A3F9B"/>
<polygon points="298.14,38.05 326.55,38.05 326.55,41.05 298.14,41.05" fill="#5A3F9B"/>
<polygon points="325.55,38.05 353.96,38.05 353.96,41.05 325.55,41.05" fill="#5A3F9B"/>
<polygon points="352.96,38.05 381.37,38.05 381.37,41.05 352.96,41.05" fill="#5A3F9B"/>
<polygon points="380.37,38.05 408.78,38.05 408.78,41.05 380.37,41.05" fill="#5A3F9B"/>
<polygon points="407.78,38.05 436.19,38.05 436.19,41.05 407.78,41.05" fill="#5A3F9B"/>
<polygon points="435.19,38.05 463.60,38.05 463.60,41.05 435.19,41.05" fill="#5A3F9B"/>
<polygon points="462.60,38.05 491.01,38.05 491.01,41.05 462.60,41.05" fill="#5A3F9B"/>
<polygon points="490.01,40.05 490.01,38.05 491.01,38.05 518.42,38.10 518.42,39.10 518.42,41.10 517.42,41.10 490.01,41.05" fill="#5A3F9B"/>
<polygon points="517.41,40.10 517.42,38.10 518.42,38.10 545.84,38.25 545.84,39.25 545.83,41.25 544.83,41.25 517.41,41.10" fill="#5A3F9B"/>
<polygon points="544.82,40.25 544.84,38.25 545.84,38.25 573.25,38.47 573.25,39.47 573.23,41.47 572.23,41.47 544.82,41.25" fill="#5A3F9B"/>
<polygon points="572.23,40.47 572.25,38.47 573.25,38.47 600.66,38.80 600.66,39.80 600.64,41.80 599.64,41.80 572.23,41.47" fill="#5A3F9B"/>
<polygon points="599.64,40.80 599.66,38.80 600.66,38.80 628.07,39.13 628.07,40.13 628.05,42.13 627.05,42.13 599.64,41.80" fill="#5A3F9B"/>
<polygon points="627.05,41.13 627.07,39.13 628.07,39.13 655.48,39.46 655.48,40.46 655.46,42.46 654.46,42.46 627.05,42.13" fill="#5A3F9B"/>
<polygon points="654.46,41.46 654.48,39.46 655.48,39.46 682.89,39.79 682.89,40.79 682.87,42.79 681.87,42.79 654.46,42.46" fill="#5A3F9B"/>
<polygon points="681.87,41.79 681.89,39.79 682.89,39.79 710.30,40.12 710.30,41.12 710.28,43.12 709.28,43.12 681.87,42.79" fill="#5A3F9B"/>
<polygon points="214.01,37.15 218.81,37.15 218.81,41.95 214.01,41.95" fill="#5A3F9B"/>
<polygon points="241.42,37.15 246.22,37.15 246.22,41.95 241.42,41.95" fill="#5A3F9B"/>
<polygon points="268.83,37.15 273.63,37.15 273.63,41.95 268.83,41.95" fill="#5A3F9B"/>
<polygon points="296.24,37.15 301.04,37.15 301.04,41.95 296.24,41.95" fill="#5A3F9B"/>
<polygon points="323.65,37.15 328.45,37.15 328.45,41.95 323.65,41.95" fill="#5A3F9B"/>
<polygon points="351.06,37.15 355.86,37.15 355.86,41.95 351.06,41.95" fill="#5A3F9B"/>
<polygon points="378.47,37.15 383.27,37.15 383.27,41.95 378.47,41.95" fill="#5A3F9B"/>
<polygon points="405.88,37.15 410.68,37.15 410.68,41.95 405.88,41.95" fill="#5A3F9B"/>
<polygon points="433.29,37.15 438.09,37.15 438.09,41.95 433.29,41.95" fill="#5A3F9B"/>
<polygon points="460.70,37.15 465.50,37.15 465.50,41.95 460.70,41.95" fill="#5A3F9B"/>
<polygon points="488.11,37.15 492.91,37.15 492.91,41.95 488.11,41.95" fill="#5A3F9B"/>
<polygon points="515.52,37.20 520.32,37.20 520.32,42.00 515.52,42.00" fill="#5A3F9B"/>
<polygon points="542.93,37.35 547.73,37.35 547.73,42.15 542.93,42.15" fill="#5A3F9B"/>
<polygon points="570.34,37.57 575.14,37.57 575.14,42.37 570.34,42.37" fill="#5A3F9B"/>
<polygon points="597.75,37.90 602.55,37.90 602.55,42.70 597.75,42.70" fill="#5A3F9B"/>
<polygon points="625.16,38.23 629.96,38.23 629.96,43.03 625.16,43.03" fill="#5A3F9B"/>
<polygon points="652.57,38.56 657.37,38.56 657.37,43.36 652.57,43.36" fill="#5A3F9B"/>
<polygon points="679.98,38.89 684.78,38.89 684.78,43.69 679.98,43.69" fill="#5A3F9B"/>
<polygon points="707.39,39.22 712.19,39.22 712.19,44.02 707.39,44.02" fill="#5A3F9B"/>
<polygon points="215.91,38.05 244.32,38.05 244.32,41.05 215.91,41.05" fill="#A82E18"/>
<polygon points="243.32,38.05 271.73,38.05 271.73,41.05 243.32,41.05" fill="#A82E18"/>
<polygon points="270.73,38.05 299.14,38.05 299.14,41.05 270.73,41.05" fill="#A82E18"/>
<polygon points="298.14,38.05 326.55,38.05 326.55,41.05 298.14,41.05" fill="#A82E18"/>
<polygon points="325.55,38.05 353.96,38.05 353.96,41.05 325.55,41.05" fill="#A82E18"/>
<polygon points="352.96,38.05 381.37,38.05 381.37,41.05 352.96,41.05" fill="#A82E18"/>
<polygon points="380.37,38.05 408.78,38.05 408.78,41.05 380.37,41.05" fill="#A82E18"/>
<polygon points="407.78,38.05 436.19,38.05 436.19,41.05 407.78,41.05" fill="#A82E18"/>
<polygon points="435.19,38.05 463.60,38.05 463.60,41.05 435.19,41.05" fill="#A82E18"/>
<polygon points="462.60,38.05 491.01,38.05 491.01,41.05 462.60,41.05" fill="#A82E18"/>
<polygon points="490.01,38.05 518.42,38.05 518.42,41.05 490.01,41.05" fill="#A82E18"/>
<polygon points="517.42,38.05 545.83,38.05 545.83,41.05 517.42,41.05" fill="#A82E18"/>
<polygon points="544.83,38.05 573.24,38.05 573.24,41.05 544.83,41.05" fill="#A82E18"/>
<polygon points="572.24,40.05 572.24,38.05 573.24,38.05 600.65,38.10 600.65,39.10 600.65,41.10 599.65,41.10 572.24,41.05" fill="#A82E18"/>
<polygon points="599.65,40.10 599.65,38.10 600.65,38.10 628.06,38.15 628.06,39.15 628.06,41.15 627.06,41.15 599.65,41.10" fill="#A82E18"/>
<polygon points="627.06,40.15 627.06,38.15 628.06,38.15 655.47,38.20 655.47,39.20 655.47,41.20 654.47,41.20 627.06,41.15" fill="#A82E18"/>
<polygon points="654.47,40.20 654.47,38.20 655.47,38.20 682.88,38.25 682.88,39.25 682.88,41.25 681.88,41.25 654.47,41.20" fill="#A82E18"/>
<polygon points="681.88,40.25 681.88,38.25 682.88,38.25 710.29,38.30 710.29,39.30 710.29,41.30 709.29,41.30 681.88,41.25" fill="#A82E18"/>
<polygon points="213.61,39.05 213.69,38.45 213.92,37.90 214.28,37.42 214.76,37.06 215.31,36.83 215.91,36.75 216.91,36.75 217.50,36.83 218.06,37.06 218.54,37.42 218.90,37.90 219.13,38.45 219.21,39.05 219.21,40.05 219.13,40.65 218.90,41.20 218.54,41.68 218.06,42.04 217.50,42.27 216.91,42.35 215.91,42.35 215.31,42.27 214.76,42.04 214.28,41.68 213.92,41.20 213.69,40.65 213.61,40.05" fill="#A82E18"/>
<polygon points="241.02,39.05 241.10,38.45 241.33,37.90 241.69,37.42 242.17,37.06 242.72,36.83 243.32,36.75 244.32,36.75 244.91,36.83 245.47,37.06 245.95,37.42 246.31,37.90 246.54,38.45 246.62,39.05 246.62,40.05 246.54,40.65 246.31,41.20 245.95,41.68 245.47,42.04 244.91,42.27 244.32,42.35 243.32,42.35 242.72,42.27 242.17,42.04 241.69,41.68 241.33,41.20 241.10,40.65 241.02,40.05" fill="#A82E18"/>
<polygon points="268.43,39.05 268.51,38.45 268.74,37.90 269.10,37.42 269.58,37.06 270.13,36.83 270.73,36.75 271.73,36.75 272.32,36.83 272.88,37.06 273.36,37.42 273.72,37.90 273.95,38.45 274.03,39.05 274.03,40.05 273.95,40.65 273.72,41.20 273.36,41.68 272.88,42.04 272.32,42.27 271.73,42.35 270.73,42.35 270.13,42.27 269.58,42.04 269.10,41.68 268.74,41.20 268.51,40.65 268.43,40.05" fill="#A82E18"/>
<polygon points="295.84,39.05 295.92,38.45 296.15,37.90 296.51,37.42 296.99,37.06 297.55,36.83 298.14,36.75 299.14,36.75 299.74,36.83 300.29,37.06 300.77,37.42 301.13,37.90 301.36,38.45 301.44,39.05 301.44,40.05 301.36,40.65 301.13,41.20 300.77,41.68 300.29,42.04 299.74,42.27 299.14,42.35 298.14,42.35 297.55,42.27 296.99,42.04 296.51,41.68 296.15,41.20 295.92,40.65 295.84,40.05" fill="#A82E18"/>
<polygon points="323.25,39.05 323.33,38.45 323.56,37.90 323.92,37.42 324.40,37.06 324.95,36.83 325.55,36.75 326.55,36.75 327.14,36.83 327.70,37.06 328.18,37.42 328.54,37.90 328.77,38.45 328.85,39.05 328.85,40.05 328.77,40.65 328.54,41.20 328.18,41.68 327.70,42.04 327.14,42.27 326.55,42.35 325.55,42.35 324.95,42.27 324.40,42.04 323.92,41.68 323.56,41.20 323.33,40.65 323.25,40.05" fill="#A82E18"/>
<polygon points="350.66,39.05 350.74,38.45 350.97,37.90 351.33,37.42 351.81,37.06 352.37,36.83 352.96,36.75 353.96,36.75 354.56,36.83 355.11,37.06 355.59,37.42 355.95,37.90 356.18,38.45 356.26,39.05 356.26,40.05 356.18,40.65 355.95,41.20 355.59,41.68 355.11,42.04 354.56,42.27 353.96,42.35 352.96,42.35 352.37,42.27 351.81,42.04 351.33,41.68 350.97,41.20 350.74,40.65 350.66,40.05" fill="#A82E18"/>
<polygon points="378.07,39.05 378.15,38.45 378.38,37.90 378.74,37.42 379.22,37.06 379.77,36.83 380.37,36.75 381.37,36.75 381.96,36.83 382.52,37.06 383.00,37.42 383.36,37.90 383.59,38.45 383.67,39.05 383.67,40.05 383.59,40.65 383.36,41.20 383.00,41.68 382.52,42.04 381.96,42.27 381.37,42.35 380.37,42.35 379.77,42.27 379.22,42.04 378.74,41.68 378.38,41.20 378.15,40.65 378.07,40.05" fill="#A82E18"/>
<polygon points="405.48,39.05 405.56,38.45 405.79,37.90 406.15,37.42 406.63,37.06 407.19,36.83 407.78,36.75 408.78,36.75 409.38,36.83 409.93,37.06 410.41,37.42 410.77,37.90 411.00,38.45 411.08,39.05 411.08,40.05 411.00,40.65 410.77,41.20 410.41,41.68 409.93,42.04 409.38,42.27 408.78,42.35 407.78,42.35 407.19,42.27 406.63,42.04 406.15,41.68 405.79,41.20 405.56,40.65 405.48,40.05" fill="#A82E18"/>
<polygon points="432.89,39.05 432.97,38.45 433.20,37.90 433.56,37.42 434.04,37.06 434.60,36.83 435.19,36.75 436.19,36.75 436.79,36.83 437.34,37.06 437.82,37.42 438.18,37.90 438.41,38.45 438.49,39.05 438.49,40.05 438.41,40.65 438.18,41.20 437.82,41.68 437.34,42.04 436.79,42.27 436.19,42.35 435.19,42.35 434.60,42.27 434.04,42.04 433.56,41.68 433.20,41.20 432.97,40.65 432.89,40.05" fill="#A82E18"/>
<polygon points="460.30,39.05 460.38,38.45 460.61,37.90 460.97,37.42 461.45,37.06 462.00,36.83 462.60,36.75 463.60,36.75 464.19,36.83 464.75,37.06 465.23,37.42 465.59,37.90 465.82,38.45 465.90,39.05 465.90,40.05 465.82,40.65 465.59,41.20 465.23,41.68 464.75,42.04 464.19,42.27 463.60,42.35 462.60,42.35 462.00,42.27 461.45,42.04 460.97,41.68 460.61,41.20 460.38,40.65 460.30,40.05" fill="#A82E18"/>
<polygon points="487.71,39.05 487.79,38.45 488.02,37.90 488.38,37.42 488.86,37.06 489.42,36.83 490.01,36.75 491.01,36.75 491.61,36.83 492.16,37.06 492.64,37.42 493.00,37.90 493.23,38.45 493.31,39.05 493.31,40.05 493.23,40.65 493.00,41.20 492.64,41.68 492.16,42.04 491.61,42.27 491.01,42.35 490.01,42.35 489.42,42.27 488.86,42.04 488.38,41.68 488.02,41.20 487.79,40.65 487.71,40.05" fill="#A82E18"/>
<polygon points="515.12,39.05 515.20,38.45 515.43,37.90 515.79,37.42 516.27,37.06 516.83,36.83 517.42,36.75 518.42,36.75 519.01,36.83 519.57,37.06 520.05,37.42 520.41,37.90 520.64,38.45 520.72,39.05 520.72,40.05 520.64,40.65 520.41,41.20 520.05,41.68 519.57,42.04 519.01,42.27 518.42,42.35 517.42,42.35 516.83,42.27 516.27,42.04 515.79,41.68 515.43,41.20 515.20,40.65 515.12,40.05" fill="#A82E18"/>
<polygon points="542.53,39.05 542.61,38.45 542.84,37.90 543.20,37.42 543.68,37.06 544.24,36.83 544.83,36.75 545.83,36.75 546.42,36.83 546.98,37.06 547.46,37.42 547.82,37.90 548.05,38.45 548.13,39.05 548.13,40.05 548.05,40.65 547.82,41.20 547.46,41.68 546.98,42.04 546.42,42.27 545.83,42.35 544.83,42.35 544.24,42.27 543.68,42.04 543.20,41.68 542.84,41.20 542.61,40.65 542.53,40.05" fill="#A82E18"/>
<polygon points="569.94,39.05 570.02,38.45 570.25,37.90 570.61,37.42 571.09,37.06 571.64,36.83 572.24,36.75 573.24,36.75 573.84,36.83 574.39,37.06 574.87,37.42 575.23,37.90 575.46,38.45 575.54,39.05 575.54,40.05 575.46,40.65 575.23,41.20 574.87,41.68 574.39,42.04 573.84,42.27 573.24,42.35 572.24,42.35 571.64,42.27 571.09,42.04 570.61,41.68 570.25,41.20 570.02,40.65 569.94,40.05" fill="#A82E18"/>
<polygon points="597.35,39.10 597.43,38.51 597.66,37.95 598.02,37.47 598.50,37.11 599.05,36.88 599.65,36.80 600.65,36.80 601.25,36.88 601.80,37.11 602.28,37.47 602.64,37.95 602.87,38.51 602.95,39.10 602.95,40.10 602.87,40.70 602.64,41.25 602.28,41.73 601.80,42.09 601.25,42.32 600.65,42.40 599.65,42.40 599.05,42.32 598.50,42.09 598.02,41.73 597.66,41.25 597.43,40.70 597.35,40.10" fill="#A82E18"/>
<polygon points="624.76,39.15 624.84,38.55 625.07,38.00 625.43,37.52 625.91,37.16 626.47,36.93 627.06,36.85 628.06,36.85 628.65,36.93 629.21,37.16 629.69,37.52 630.05,38.00 630.28,38.55 630.36,39.15 630.36,40.15 630.28,40.74 630.05,41.30 629.69,41.78 629.21,42.14 628.65,42.37 628.06,42.45 627.06,42.45 626.47,42.37 625.91,42.14 625.43,41.78 625.07,41.30 624.84,40.74 624.76,40.15" fill="#A82E18"/>
<polygon points="652.17,39.20 652.25,38.60 652.48,38.05 652.84,37.57 653.32,37.21 653.88,36.98 654.47,36.90 655.47,36.90 656.07,36.98 656.62,37.21 657.10,37.57 657.46,38.05 657.69,38.60 657.77,39.20 657.77,40.20 657.69,40.80 657.46,41.35 657.10,41.83 656.62,42.19 656.07,42.42 655.47,42.50 654.47,42.50 653.88,42.42 653.32,42.19 652.84,41.83 652.48,41.35 652.25,40.80 652.17,40.20" fill="#A82E18"/>
<polygon points="679.58,39.25 679.66,38.66 679.89,38.10 680.25,37.62 680.73,37.26 681.28,37.03 681.88,36.95 682.88,36.95 683.48,37.03 684.03,37.26 684.51,37.62 684.87,38.10 685.10,38.66 685.18,39.25 685.18,40.25 685.10,40.84 684.87,41.40 684.51,41.88 684.03,42.24 683.48,42.47 682.88,42.55 681.88,42.55 681.28,42.47 680.73,42.24 680.25,41.88 679.89,41.40 679.66,40.84 679.58,40.25" fill="#A82E18"/>
<polygon points="706.99,39.30 707.07,38.70 707.30,38.15 707.66,37.67 708.14,37.31 708.70,37.08 709.29,37.00 710.29,37.00 710.88,37.08 711.44,37.31 711.92,37.67 712.28,38.15 712.51,38.70 712.59,39.30 712.59,40.30 712.51,40.90 712.28,41.45 711.92,41.93 711.44,42.29 710.88,42.52 710.29,42.60 709.29,42.60 708.70,42.52 708.14,42.29 707.66,41.93 707.30,41.45 707.07,40.90 706.99,40.30" fill="#A82E18"/>
<polygon points="215.91,38.05 244.32,38.05 244.32,41.05 215.91,41.05" fill="#FAA21B"/>
<polygon points="243.32,38.05 271.73,38.05 271.73,41.05 243.32,41.05" fill="#FAA21B"/>
<polygon points="270.73,38.05 299.14,38.05 299.14,41.05 270.73,41.05" fill="#FAA21B"/>
<polygon points="298.14,38.05 326.55,38.05 326.55,41.05 298.14,41.05" fill="#FAA21B"/>
<polygon points="325.55,38.05 353.96,38.05 353.96,41.05 325.55,41.05" fill="#FAA21B"/>
<polygon points="352.96,38.05 381.37,38.05 381.37,41.05 352.96,41.05" fill="#FAA21B"/>
<polygon points="380.37,38.05 408.78,38.05 408.78,41.05 380.37,41.05" fill="#FAA21B"/>
<polygon points="407.78,38.05 436.19,38.05 436.19,41.05 407.78,41.05" fill="#FAA21B"/>
<polygon points="435.19,38.05 463.60,38.05 463.60,41.05 435.19,41.05" fill="#FAA21B"/>
<polygon points="462.60,38.05 491.01,38.05 491.01,41.05 462.60,41.05" fill="#FAA21B"/>
<polygon points="490.01,38.05 518.42,38.05 518.42,41.05 490.01,41.05" fill="#FAA21B"/>
<polygon points="517.42,38.05 545.83,38.05 545.83,41.05 517.42,41.05" fill="#FAA21B"/>
<polygon points="544.83,38.05 573.24,38.05 573.24,41.05 544.83,41.05" fill="#FAA21B"/>
<polygon points="572.24,38.05 600.65,38.05 600.65,41.05 572.24,41.05" fill="#FAA21B"/>
<polygon points="599.65,38.05 628.06,38.05 628.06,41.05 599.65,41.05" fill="#FAA21B"/>
<polygon points="627.06,38.05 655.47,38.05 655.47,41.05 627.06,41.05" fill="#FAA21B"/>
<polygon points="654.47,38.05 682.88,38.05 682.88,41.05 654.47,41.05" fill="#FAA21B"/>
<polygon points="681.88,38.05 710.29,38.05 710.29,41.05 681.88,41.05" fill="#FAA21B"/>
<polygon points="212.49,37.94 215.91,35.45 216.91,35.45 220.33,37.94 220.33,38.94 219.03,42.96 213.79,42.96 212.49,38.94" fill="#FAA21B"/>
<polygon points="239.90,37.94 243.32,35.45 244.32,35.45 247.74,37.94 247.74,38.94 246.44,42.96 241.20,42.96 239.90,38.94" fill="#FAA21B"/>
<polygon points="267.31,37.94 270.73,35.45 271.73,35.45 275.15,37.94 275.15,38.94 273.85,42.96 268.61,42.96 267.31,38.94" fill="#FAA21B"/>
<polygon points="294.72,37.94 298.14,35.45 299.14,35.45 302.56,37.94 302.56,38.94 301.26,42.96 296.02,42.96 294.72,38.94" fill="#FAA21B"/>
<polygon points="322.13,37.94 325.55,35.45 326.55,35.45 329.97,37.94 329.97,38.94 328.67,42.96 323.43,42.96 322.13,38.94" fill="#FAA21B"/>
<polygon points="349.54,37.94 352.96,35.45 353.96,35.45 357.38,37.94 357.38,38.94 356.08,42.96 350.84,42.96 349.54,38.94" fill="#FAA21B"/>
<polygon points="376.95,37.94 380.37,35.45 381.37,35.45 384.79,37.94 384.79,38.94 383.49,42.96 378.25,42.96 376.95,38.94" fill="#FAA21B"/>
<polygon points="404.36,37.94 407.78,35.45 408.78,35.45 412.20,37.94 412.20,38.94 410.90,42.96 405.66,42.96 404.36,38.94" fill="#FAA21B"/>
<polygon points="431.77,37.94 435.19,35.45 436.19,35.45 439.61,37.94 439.61,38.94 438.31,42.96 433.07,42.96 431.77,38.94" fill="#FAA21B"/>
<polygon points="459.18,37.94 462.60,35.45 463.60,35.45 467.02,37.94 467.02,38.94 465.72,42.96 460.48,42.96 459.18,38.94" fill="#FAA21B"/>
<polygon points="486.59,37.94 490.01,35.45 491.01,35.45 494.43,37.94 494.43,38.94 493.13,42.96 487.89,42.96 486.59,38.94" fill="#FAA21B"/>
<polygon points="514.00,37.94 517.42,35.45 518.42,35.45 521.84,37.94 521.84,38.94 520.54,42.96 515.30,42.96 514.00,38.94" fill="#FAA21B"/>
<polygon points="541.41,37.94 544.83,35.45 545.83,35.45 549.25,37.94 549.25,38.94 547.95,42.96 542.71,42.96 541.41,38.94" fill="#FAA21B"/>
<polygon points="568.82,37.94 572.24,35.45 573.24,35.45 576.66,37.94 576.66,38.94 575.36,42.96 570.12,42.96 568.82,38.94" fill="#FAA21B"/>
<polygon points="596.23,37.94 599.65,35.45 600.65,35.45 604.07,37.94 604.07,38.94 602.77,42.96 597.53,42.96 596.23,38.94" fill="#FAA21B"/>
<polygon points="623.64,37.94 627.06,35.45 628.06,35.45 631.48,37.94 631.48,38.94 630.18,42.96 624.94,42.96 623.64,38.94" fill="#FAA21B"/>
<polygon points="651.05,37.94 654.47,35.45 655.47,35.45 658.89,37.94 658.89,38.94 657.59,42.96 652.35,42.96 651.05,38.94" fill="#FAA21B"/>
<polygon points="678.46,37.94 681.88,35.45 682.88,35.45 686.30,37.94 686.30,38.94 685.00,42.96 679.76,42.96 678.46,38.94" fill="#FAA21B"/>
<polygon points="705.87,37.94 709.29,35.45 710.29,35.45 713.71,37.94 713.71,38.94 712.41,42.96 707.17,42.96 705.87,38.94" fill="#FAA21B"/>
<polygon points="187.92,95.84 189.08,93.96 190.08,93.96 194.93,96.95 194.93,97.95 193.78,99.82 192.78,99.82 187.92,96.84" fill="#231F20"/>
<polygon points="197.64,101.81 198.79,99.93 199.79,99.93 204.65,102.92 204.65,103.92 203.49,105.79 202.49,105.79 197.64,102.81" fill="#231F20"/>
<polygon points="207.35,107.77 208.50,105.90 209.50,105.90 214.36,108.88 214.36,109.88 213.21,111.76 212.21,111.76 207.35,108.77" fill="#231F20"/>
<polygon points="217.06,113.74 218.21,111.87 219.21,111.87 224.07,114.85 224.07,115.85 222.92,117.73 221.92,117.73 217.06,114.74" fill="#231F20"/>
<polygon points="226.78,119.71 227.93,117.84 228.93,117.84 233.78,120.82 233.78,121.82 232.63,123.69 231.63,123.69 226.78,120.71" fill="#231F20"/>
<polygon points="236.49,125.68 237.64,123.81 238.64,123.81 243.50,126.79 243.50,127.79 242.34,129.66 241.34,129.66 236.49,126.68" fill="#231F20"/>
<polygon points="246.20,131.65 247.35,129.77 248.35,129.77 253.21,132.76 253.21,133.76 252.06,135.63 251.06,135.63 246.20,132.65" fill="#231F20"/>
<polygon points="255.91,137.62 257.06,135.74 258.06,135.74 262.92,138.73 262.92,139.73 261.77,141.60 260.77,141.60 255.91,138.62" fill="#231F20"/>
<polygon points="265.63,143.59 266.78,141.71 267.78,141.71 272.63,144.69 272.63,145.69 271.48,147.57 270.48,147.57 265.63,144.59" fill="#231F20"/>
<polygon points="275.34,149.55 276.49,147.68 277.49,147.68 282.35,150.66 282.35,151.66 281.19,153.54 280.19,153.54 275.34,150.55" fill="#231F20"/>
<polygon points="285.05,155.52 286.20,153.65 287.20,153.65 292.06,156.63 292.06,157.63 290.91,159.51 289.91,159.51 285.05,156.52" fill="#231F20"/>
<polygon points="294.76,161.49 295.92,159.62 296.92,159.62 301.77,162.60 301.77,163.60 300.62,165.47 299.62,165.47 294.76,162.49" fill="#231F20"/>
<polygon points="304.48,167.46 305.63,165.58 306.63,165.58 311.49,168.57 311.49,169.57 310.33,171.44 309.33,171.44 304.48,168.46" fill="#231F20"/>
<polygon points="314.19,173.43 315.34,171.55 316.34,171.55 321.20,174.54 321.20,175.54 320.05,177.41 319.05,177.41 314.19,174.43" fill="#231F20"/>
<polygon points="323.90,179.40 325.05,177.52 326.05,177.52 330.91,180.50 330.91,181.50 329.76,183.38 328.76,183.38 323.90,180.40" fill="#231F20"/>
<polygon points="333.62,185.36 334.77,183.49 335.77,183.49 340.62,186.47 340.62,187.47 339.47,189.35 338.47,189.35 333.62,186.36" fill="#231F20"/>
<polygon points="343.33,191.33 344.48,189.46 345.48,189.46 350.34,192.44 350.34,193.44 349.18,195.32 348.18,195.32 343.33,192.33" fill="#231F20"/>
<polygon points="353.04,197.30 354.19,195.43 355.19,195.43 360.05,198.41 360.05,199.41 358.90,201.28 357.90,201.28 353.04,198.30" fill="#231F20"/>
<polygon points="362.75,203.27 363.90,201.40 364.90,201.40 369.76,204.38 369.76,205.38 368.61,207.25 367.61,207.25 362.75,204.27" fill="#231F20"/>
<polygon points="372.47,209.24 373.62,207.36 374.62,207.36 379.48,210.35 379.48,211.35 378.32,213.22 377.32,213.22 372.47,210.24" fill="#231F20"/>
<polygon points="382.18,215.21 383.33,213.33 384.33,213.33 389.19,216.32 389.19,217.32 388.04,219.19 387.04,219.19 382.18,216.21" fill="#231F20"/>
<polygon points="391.89,221.18 393.04,219.30 394.04,219.30 398.90,222.28 398.90,223.28 397.75,225.16 396.75,225.16 391.89,222.18" fill="#231F20"/>
<polygon points="401.61,227.14 402.76,225.27 403.76,225.27 408.61,228.25 408.61,229.25 407.46,231.13 406.46,231.13 401.61,228.14" fill="#231F20"/>
<polygon points="411.32,233.11 412.47,231.24 413.47,231.24 418.32,234.22 418.32,235.22 417.17,237.10 416.17,237.10 411.32,234.11" fill="#231F20"/>
<polygon points="421.03,239.08 422.18,237.21 423.18,237.21 428.04,240.19 428.04,241.19 426.89,243.06 425.89,243.06 421.03,240.08" fill="#231F20"/>
<polygon points="430.74,245.05 431.89,243.17 432.89,243.17 437.75,246.16 437.75,247.16 436.60,249.03 435.60,249.03 430.74,246.05" fill="#231F20"/>
<polygon points="440.46,251.02 441.61,249.14 442.61,249.14 447.46,252.13 447.46,253.13 446.31,255.00 445.31,255.00 440.46,252.02" fill="#231F20"/>
<polygon points="450.17,256.99 451.32,255.11 452.32,255.11 457.18,258.10 457.18,259.10 456.02,260.97 455.02,260.97 450.17,257.99" fill="#231F20"/>
<polygon points="459.88,262.95 461.03,261.08 462.03,261.08 466.89,264.06 466.89,265.06 465.74,266.94 464.74,266.94 459.88,263.95" fill="#231F20"/>
<polygon points="469.59,268.92 470.75,267.05 471.75,267.05 476.60,270.03 476.60,271.03 475.45,272.91 474.45,272.91 469.59,269.92" fill="#231F20"/>
<polygon points="479.31,274.89 480.46,273.02 481.46,273.02 486.31,276.00 486.31,277.00 485.16,278.88 484.16,278.88 479.31,275.89" fill="#231F20"/>
<polygon points="489.02,280.86 490.17,278.99 491.17,278.99 496.03,281.97 496.03,282.97 494.88,284.84 493.88,284.84 489.02,281.86" fill="#231F20"/>
<polygon points="498.73,286.83 499.88,284.95 500.88,284.95 505.74,287.94 505.74,288.94 504.59,290.81 503.59,290.81 498.73,287.83" fill="#231F20"/>
<polygon points="508.44,292.80 509.60,290.92 510.60,290.92 515.45,293.91 515.45,294.91 514.30,296.78 513.30,296.78 508.44,293.80" fill="#231F20"/>
<polygon points="518.16,298.76 519.31,296.89 520.31,296.89 525.17,299.88 525.17,300.88 524.01,302.75 523.01,302.75 518.16,299.76" fill="#231F20"/>
<polygon points="527.87,304.73 529.02,302.86 530.02,302.86 534.88,305.84 534.88,306.84 533.73,308.72 532.73,308.72 527.87,305.73" fill="#231F20"/>
<polygon points="537.58,310.70 538.74,308.83 539.74,308.83 544.59,311.81 544.59,312.81 543.44,314.69 542.44,314.69 537.58,311.70" fill="#231F20"/>
<polygon points="547.30,316.67 548.45,314.80 549.45,314.80 554.30,317.78 554.30,318.78 553.15,320.65 552.15,320.65 547.30,317.67" fill="#231F20"/>
<polygon points="557.01,322.64 558.16,320.76 559.16,320.76 564.02,323.75 564.02,324.75 562.87,326.62 561.87,326.62 557.01,323.64" fill="#231F20"/>
<polygon points="566.72,328.61 567.87,326.73 568.87,326.73 573.73,329.72 573.73,330.72 572.58,332.59 571.58,332.59 566.72,329.61" fill="#231F20"/>
<polygon points="576.43,334.58 577.59,332.70 578.59,332.70 583.44,335.69 583.44,336.69 582.29,338.56 581.29,338.56 576.43,335.58" fill="#231F20"/>
<polygon points="586.15,340.54 587.30,338.67 588.30,338.67 593.15,341.65 593.15,342.65 592.00,344.53 591.00,344.53 586.15,341.54" fill="#231F20"/>
<polygon points="595.86,346.51 597.01,344.64 598.01,344.64 602.87,347.62 602.87,348.62 601.72,350.50 600.72,350.50 595.86,347.51" fill="#231F20"/>
<polygon points="605.57,352.48 606.72,350.61 607.72,350.61 612.58,353.59 612.58,354.59 611.43,356.46 610.43,356.46 605.57,353.48" fill="#231F20"/>
<polygon points="615.28,358.45 616.44,356.57 617.44,356.57 622.29,359.56 622.29,360.56 621.14,362.43 620.14,362.43 615.28,359.45" fill="#231F20"/>
<polygon points="625.00,364.42 626.15,362.54 627.15,362.54 632.01,365.53 632.01,366.53 630.85,368.40 629.85,368.40 625.00,365.42" fill="#231F20"/>
<polygon points="634.71,370.39 635.86,368.51 636.86,368.51 641.72,371.50 641.72,372.50 640.57,374.37 639.57,374.37 634.71,371.39" fill="#231F20"/>
<polygon points="644.42,376.36 645.58,374.48 646.58,374.48 651.43,377.46 651.43,378.46 650.28,380.34 649.28,380.34 644.42,377.36" fill="#231F20"/>
<polygon points="654.14,382.32 655.29,380.45 656.29,380.45 661.14,383.43 661.14,384.43 659.99,386.31 658.99,386.31 654.14,383.32" fill="#231F20"/>
<polygon points="663.85,388.29 665.00,386.42 666.00,386.42 670.86,389.40 670.86,390.40 669.71,392.28 668.71,392.28 663.85,389.29" fill="#231F20"/>
<polygon points="673.56,394.26 674.71,392.39 675.71,392.39 680.57,395.37 680.57,396.37 679.42,398.24 678.42,398.24 673.56,395.26" fill="#231F20"/>
<polygon points="683.27,400.23 684.43,398.35 685.43,398.35 690.28,401.34 690.28,402.34 689.13,404.21 688.13,404.21 683.27,401.23" fill="#231F20"/>
<polygon points="692.99,406.20 694.14,404.32 695.14,404.32 700.00,407.31 700.00,408.31 698.84,410.18 697.84,410.18 692.99,407.20" fill="#231F20"/>
<polygon points="702.70,412.17 703.85,410.29 704.85,410.29 709.71,413.27 709.71,414.27 708.56,416.15 707.56,416.15 702.70,413.17" fill="#231F20"/>
<polygon points="712.41,418.13 713.56,416.26 714.56,416.26 719.42,419.24 719.42,420.24 718.27,422.12 717.27,422.12 712.41,419.13" fill="#231F20"/>
<polygon points="722.12,424.10 723.28,422.23 724.28,422.23 729.13,425.21 729.13,426.21 727.98,428.09 726.98,428.09 722.12,425.10" fill="#231F20"/>
<polygon points="731.84,430.07 732.99,428.20 733.99,428.20 736.38,429.66 736.38,430.66 735.22,432.54 734.22,432.54 731.84,431.07" fill="#231F20"/>
</g>
<rect x="167" y="252.8" width="138.8" height="194" fill="#000"/>
<rect x="168" y="253.6" width="136.8" height="192.2" fill="#fff"/>
<defs><filter id="nf" x="160" y="250" width="150" height="200" filterUnits="userSpaceOnUse"><feOffset dx="0" dy="0"/></filter></defs><g id="legend" filter="url(#nf)">
<line x1="174.2" y1="270.1" x2="207" y2="270.1" stroke="#0072BD" stroke-width="2.45"/>
<polygon points="194.00,270.05 193.96,270.58 193.83,271.10 193.63,271.59 193.35,272.05 193.00,272.45 192.60,272.80 192.14,273.08 191.65,273.28 191.13,273.41 190.60,273.45 190.07,273.41 189.55,273.28 189.06,273.08 188.60,272.80 188.20,272.45 187.85,272.05 187.57,271.59 187.37,271.10 187.24,270.58 187.20,270.05 187.24,269.52 187.37,269.00 187.57,268.51 187.85,268.05 188.20,267.65 188.60,267.30 189.06,267.02 189.55,266.82 190.07,266.69 190.60,266.65 191.13,266.69 191.65,266.82 192.14,267.02 192.60,267.30 193.00,267.65 193.35,268.05 193.63,268.51 193.83,269.00 193.96,269.52" fill="#0072BD"/>
<g transform="translate(212.8,277.25) scale(1,1.0)"><text x="0" y="0" font-size="23.5" font-style="italic" textLength="17.0" lengthAdjust="spacingAndGlyphs" fill="#000" stroke="#fff" stroke-width="0.2">N</text></g>
<rect x="239.3" y="268.12" width="14.8" height="0.86" fill="#1a1a1a"/><rect x="239.3" y="272.42" width="14.8" height="0.86" fill="#1a1a1a"/>
<g transform="translate(261.9,277.25) scale(1,1.12)"><text x="0" y="0" font-size="21.8" letter-spacing="0.35" fill="#000" stroke="#fff" stroke-width="0.2">8</text></g>
<line x1="174.2" y1="296.6" x2="207" y2="296.6" stroke="#ED1C24" stroke-width="2.45"/>
<polygon points="187.30,293.25 193.90,293.25 193.90,299.85 187.30,299.85" fill="#ED1C24"/>
<g transform="translate(212.8,303.75) scale(1,1.0)"><text x="0" y="0" font-size="23.5" font-style="italic" textLength="17.0" lengthAdjust="spacingAndGlyphs" fill="#000" stroke="#fff" stroke-width="0.2">N</text></g>
<rect x="239.3" y="294.62" width="14.8" height="0.86" fill="#1a1a1a"/><rect x="239.3" y="298.92" width="14.8" height="0.86" fill="#1a1a1a"/>
<g transform="translate(261.9,303.75) scale(1,1.12)"><text x="0" y="0" font-size="21.8" letter-spacing="0.35" fill="#000" stroke="#fff" stroke-width="0.2">16</text></g>
<line x1="174.2" y1="323.1" x2="207" y2="323.1" stroke="#00A550" stroke-width="2.45"/>
<polygon points="190.60,318.70 186.66,325.52 194.54,325.52" fill="#00A550"/>
<g transform="translate(212.8,330.25) scale(1,1.0)"><text x="0" y="0" font-size="23.5" font-style="italic" textLength="17.0" lengthAdjust="spacingAndGlyphs" fill="#000" stroke="#fff" stroke-width="0.2">N</text></g>
<rect x="239.3" y="321.12" width="14.8" height="0.86" fill="#1a1a1a"/><rect x="239.3" y="325.42" width="14.8" height="0.86" fill="#1a1a1a"/>
<g transform="translate(261.9,330.25) scale(1,1.12)"><text x="0" y="0" font-size="21.8" letter-spacing="0.35" fill="#000" stroke="#fff" stroke-width="0.2">32</text></g>
<line x1="174.2" y1="349.6" x2="207" y2="349.6" stroke="#F48133" stroke-width="2.45"/>
<polygon points="190.60,345.25 193.50,349.55 190.60,353.85 187.70,349.55" fill="#F48133"/>
<g transform="translate(212.8,356.75) scale(1,1.0)"><text x="0" y="0" font-size="23.5" font-style="italic" textLength="17.0" lengthAdjust="spacingAndGlyphs" fill="#000" stroke="#fff" stroke-width="0.2">N</text></g>
<rect x="239.3" y="347.62" width="14.8" height="0.86" fill="#1a1a1a"/><rect x="239.3" y="351.92" width="14.8" height="0.86" fill="#1a1a1a"/>
<g transform="translate(261.9,356.75) scale(1,1.12)"><text x="0" y="0" font-size="21.8" letter-spacing="0.35" fill="#000" stroke="#fff" stroke-width="0.2">64</text></g>
<line x1="174.2" y1="376.1" x2="207" y2="376.1" stroke="#5C4199" stroke-width="2.45"/>
<path d="M189.3,373.75 L191.9,378.35 M191.9,373.75 L189.3,378.35" stroke="#6A4FA6" stroke-width="1.5" fill="none"/>
<g transform="translate(212.8,383.25) scale(1,1.0)"><text x="0" y="0" font-size="23.5" font-style="italic" textLength="17.0" lengthAdjust="spacingAndGlyphs" fill="#000" stroke="#fff" stroke-width="0.2">N</text></g>
<rect x="239.3" y="374.12" width="14.8" height="0.86" fill="#1a1a1a"/><rect x="239.3" y="378.42" width="14.8" height="0.86" fill="#1a1a1a"/>
<g transform="translate(261.9,383.25) scale(1,1.12)"><text x="0" y="0" font-size="21.8" letter-spacing="0.35" fill="#000" stroke="#fff" stroke-width="0.2">128</text></g>
<line x1="174.2" y1="402.6" x2="207" y2="402.6" stroke="#A82E18" stroke-width="2.45"/>
<polygon points="192.90,402.55 192.82,403.15 192.59,403.70 192.23,404.18 191.75,404.54 191.20,404.77 190.60,404.85 190.00,404.77 189.45,404.54 188.97,404.18 188.61,403.70 188.38,403.15 188.30,402.55 188.38,401.95 188.61,401.40 188.97,400.92 189.45,400.56 190.00,400.33 190.60,400.25 191.20,400.33 191.75,400.56 192.23,400.92 192.59,401.40 192.82,401.95" fill="#A82E18"/>
<g transform="translate(212.8,409.75) scale(1,1.0)"><text x="0" y="0" font-size="23.5" font-style="italic" textLength="17.0" lengthAdjust="spacingAndGlyphs" fill="#000" stroke="#fff" stroke-width="0.2">N</text></g>
<rect x="239.3" y="400.62" width="14.8" height="0.86" fill="#1a1a1a"/><rect x="239.3" y="404.92" width="14.8" height="0.86" fill="#1a1a1a"/>
<g transform="translate(261.9,409.75) scale(1,1.12)"><text x="0" y="0" font-size="21.8" letter-spacing="0.35" fill="#000" stroke="#fff" stroke-width="0.2">256</text></g>
<line x1="174.2" y1="429.1" x2="207" y2="429.1" stroke="#FAA21B" stroke-width="2.45"/>
<polygon points="190.60,425.45 187.18,427.94 188.48,431.96 192.72,431.96 194.02,427.94" fill="#FAA21B"/>
<g transform="translate(212.8,436.25) scale(1,1.0)"><text x="0" y="0" font-size="23.5" font-style="italic" textLength="17.0" lengthAdjust="spacingAndGlyphs" fill="#000" stroke="#fff" stroke-width="0.2">N</text></g>
<rect x="239.3" y="427.12" width="14.8" height="0.86" fill="#1a1a1a"/><rect x="239.3" y="431.42" width="14.8" height="0.86" fill="#1a1a1a"/>
<g transform="translate(261.9,436.25) scale(1,1.12)"><text x="0" y="0" font-size="21.8" letter-spacing="0.35" fill="#000" stroke="#fff" stroke-width="0.2">512</text></g>
</g>
</svg></body></html>
